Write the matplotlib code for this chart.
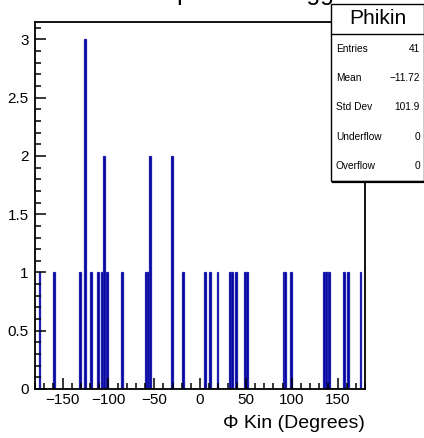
import matplotlib
matplotlib.use('Agg')
import matplotlib.pyplot as plt
import numpy as np
from matplotlib.patches import Rectangle
from matplotlib.lines import Line2D
from matplotlib.ticker import MultipleLocator, FuncFormatter

plt.rcParams['font.family'] = ['Liberation Sans', 'DejaVu Sans']

## bin centres (degrees) and counts, 180 bins of 2 deg
phi_centres = [-175, -159, -131, -125, -119, -111, -107, -105, -103, -101,
               -85, -59, -57, -55, -31, -19, 5, 11, 19, 33, 35, 39, 49, 51,
               91, 93, 99, 135, 137, 139, 141, 157, 161, 175]
phi_counts = [1, 1, 1, 3, 1, 1, 1, 2, 1, 1,
              1, 1, 1, 2, 2, 1, 1, 1, 1, 1, 1, 1, 1, 1,
              1, 1, 1, 1, 1, 1, 1, 1, 1, 1]
bin_edges = np.linspace(-180, 180, 181)

stat_names = ['Entries', 'Mean', 'Std Dev', 'Underflow', 'Overflow']
stat_values = ['41', '\u221211.72', '101.9', '0', '0']

W, H = 424, 438
fig = plt.figure(figsize=(W / 100, H / 100), dpi=100)
ax = fig.add_axes([35 / W, 1 - 389 / H, 330 / W, 367 / H])

ax.hist(phi_centres, bins=bin_edges, weights=phi_counts,
        color='#000099', edgecolor='#1f1fb0', linewidth=0.9)

ax.set_xlim(-180, 180)
ax.set_ylim(0, 3.15)

ax.xaxis.set_major_locator(MultipleLocator(50))
ax.xaxis.set_minor_locator(MultipleLocator(10))
ax.yaxis.set_major_locator(MultipleLocator(0.5))
ax.yaxis.set_minor_locator(MultipleLocator(0.1))
ax.yaxis.set_major_formatter(FuncFormatter(lambda v, p: '%g' % v))
ax.xaxis.set_major_formatter(FuncFormatter(lambda v, p: ('%g' % v).replace('-', '\u2212')))

ax.tick_params(which='both', direction='in', top=False, right=False, width=1.1)
ax.tick_params(which='major', length=8, labelsize=11)
ax.tick_params(axis='x', which='major', pad=3)
ax.tick_params(axis='y', which='major', pad=4.5)
ax.tick_params(which='minor', length=4)
for s in ax.spines.values():
    s.set_linewidth(1.3)

fig.text(365 / W, 1 - 423 / H, '\u03a6 Kin (Degrees)', ha='right', va='center', fontsize=14)

## title (cut off at the top of the canvas, only descenders show)
fig.text(134 / W, 1.0, 'Kin phi for all triggers', ha='left', va='baseline', fontsize=18)

## stats box
bx0, bx1 = 331 / W, 424 / W
by0, by1 = 1 - 181 / H, 1 - 4 / H
hdr = 1 - 34 / H
fig.add_artist(Rectangle((bx0, by0), bx1 - bx0, by1 - by0, transform=fig.transFigure,
                         facecolor='white', edgecolor='black', linewidth=1.0, zorder=5))
fig.add_artist(Line2D([bx0, bx1], [hdr, hdr], transform=fig.transFigure,
                      color='black', linewidth=1.0, zorder=6))
fig.add_artist(Line2D([bx0 + 2 / W, bx1], [by0 - 1 / H, by0 - 1 / H], transform=fig.transFigure,
                      color='black', linewidth=1.6, zorder=6))
fig.text((bx0 + bx1) / 2, (hdr + by1) / 2, 'Phikin', ha='center', va='center',
         fontsize=15, zorder=7)
row_h = (hdr - by0) / len(stat_names)
for i, (n, v) in enumerate(zip(stat_names, stat_values)):
    yy = hdr - row_h * (i + 0.5)
    fig.text(bx0 + 5 / W, yy, n, ha='left', va='center', fontsize=7.3, zorder=7)
    fig.text(bx1 - 4 / W, yy, v, ha='right', va='center', fontsize=7.3, zorder=7)

fig.savefig('out.png', dpi=100)
